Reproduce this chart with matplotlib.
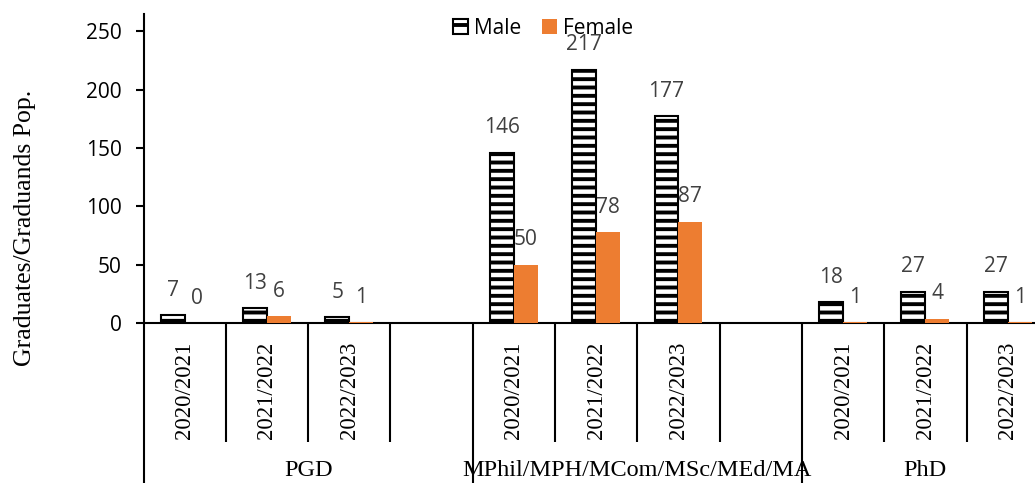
import matplotlib
matplotlib.use("Agg")
import matplotlib.pyplot as plt
import matplotlib.transforms as mtransforms
from matplotlib.patches import Patch
import numpy as np

groups = ["PGD", "MPhil/MPH/MCom/MSc/MEd/MA", "PhD"]
years = ["2020/2021", "2021/2022", "2022/2023"]
male_pgd = [7, 13, 5]
female_pgd = [0, 6, 1]
male_mphil = [146, 217, 177]
female_mphil = [50, 78, 87]
male_phd = [18, 27, 27]
female_phd = [1, 4, 1]
yticks = [0, 50, 100, 150, 200, 250]

plt.rcParams['hatch.linewidth'] = 2.8
plt.rcParams['hatch.color'] = 'black'

# build slots (blank slot after PGD and MPhil groups)
male = male_pgd + [np.nan] + male_mphil + [np.nan] + male_phd
female = female_pgd + [np.nan] + female_mphil + [np.nan] + female_phd
slot_labels = years + [""] + years + [""] + years
group_slots = [(0, 3), (4, 7), (8, 10)]  # inclusive slot index ranges
n = len(male)
x = np.arange(n)

W, H = 1035, 483
fig = plt.figure(figsize=(W / 100, H / 100), dpi=100)
left_px, zero_px, top_px = 143.5, 323.3, 14.0
slot_px = 82.3
ax = fig.add_axes([left_px / W, (H - zero_px) / H, n * slot_px / W, (zero_px - top_px) / H])

bw = 0.29
sans = "Open Sans"
serif = "Liberation Serif"

mb = ax.bar(x - bw / 2, male, width=bw, facecolor='white', edgecolor='black',
            linewidth=1.5, hatch='--', zorder=3)
fb = ax.bar(x + bw / 2, female, width=bw, color='#ED7D31', linewidth=0, zorder=3)

for xi, v in zip(x, male):
    if not np.isnan(v):
        ax.annotate(f"{int(v)}", (xi - bw / 2, v), xytext=(0, 18), textcoords='offset points',
                    ha='center', va='center', fontsize=15, family=sans, color='#404040')
for xi, v in zip(x, female):
    if not np.isnan(v):
        ax.annotate(f"{int(v)}", (xi + bw / 2, v), xytext=(0, 18), textcoords='offset points',
                    ha='center', va='center', fontsize=15, family=sans, color='#404040')

ax.set_xlim(-0.5, n - 0.5)
ax.set_ylim(0, 264.6)
ax.set_yticks(yticks)
ax.set_yticklabels([str(t) for t in yticks], family=sans, fontsize=15)
ax.tick_params(axis='y', length=5.5, width=1.5, pad=10, direction='out')
ax.set_xticks([])
for s in ['top', 'right']:
    ax.spines[s].set_visible(False)
ax.spines['left'].set_linewidth(1.5)
ax.spines['bottom'].set_linewidth(1.5)

ax_h_px = zero_px - top_px
def ay(py):
    return -(py - zero_px) / ax_h_px

trans = mtransforms.blended_transform_factory(ax.transData, ax.transAxes)
long_bounds = {-0.5, 3.5, 7.5, 10.5}
for b in np.arange(-0.5, n, 1.0):
    ybot = ay(483 + 5) if b in long_bounds else ay(442)
    ax.plot([b, b], [0, ybot], transform=trans, color='black', lw=1.5, clip_on=False,
            solid_capstyle='butt')

for xi, lab in zip(x, slot_labels):
    if lab:
        ax.text(xi, ay(390), lab, transform=trans, rotation=90, ha='center', va='center',
                fontsize=16.5, family=serif)

for (a, b), g in zip(group_slots, groups):
    lo, hi = a - 0.5, b + 0.5
    ax.text((lo + hi) / 2, ay(471), g, transform=trans, ha='center', va='center',
            fontsize=17.5, family=serif)

fig.text(25 / W, 1 - 228 / H, "Graduates/Graduands Pop.", rotation=90, ha='center',
         va='center', fontsize=18.5, family=serif)

handles = [Patch(facecolor='white', edgecolor='black', hatch='-', linewidth=1.5),
           Patch(facecolor='#ED7D31', edgecolor='none')]
leg = fig.legend(handles, ["Male", "Female"], loc='center', bbox_to_anchor=(543 / W, 1 - 28 / H),
                 ncol=2, frameon=False, prop={'family': sans, 'size': 15},
                 handlelength=0.7, handleheight=0.7, handletextpad=0.3, columnspacing=1.0,
                 borderpad=0, borderaxespad=0)

fig.savefig("out.png", dpi=100)
